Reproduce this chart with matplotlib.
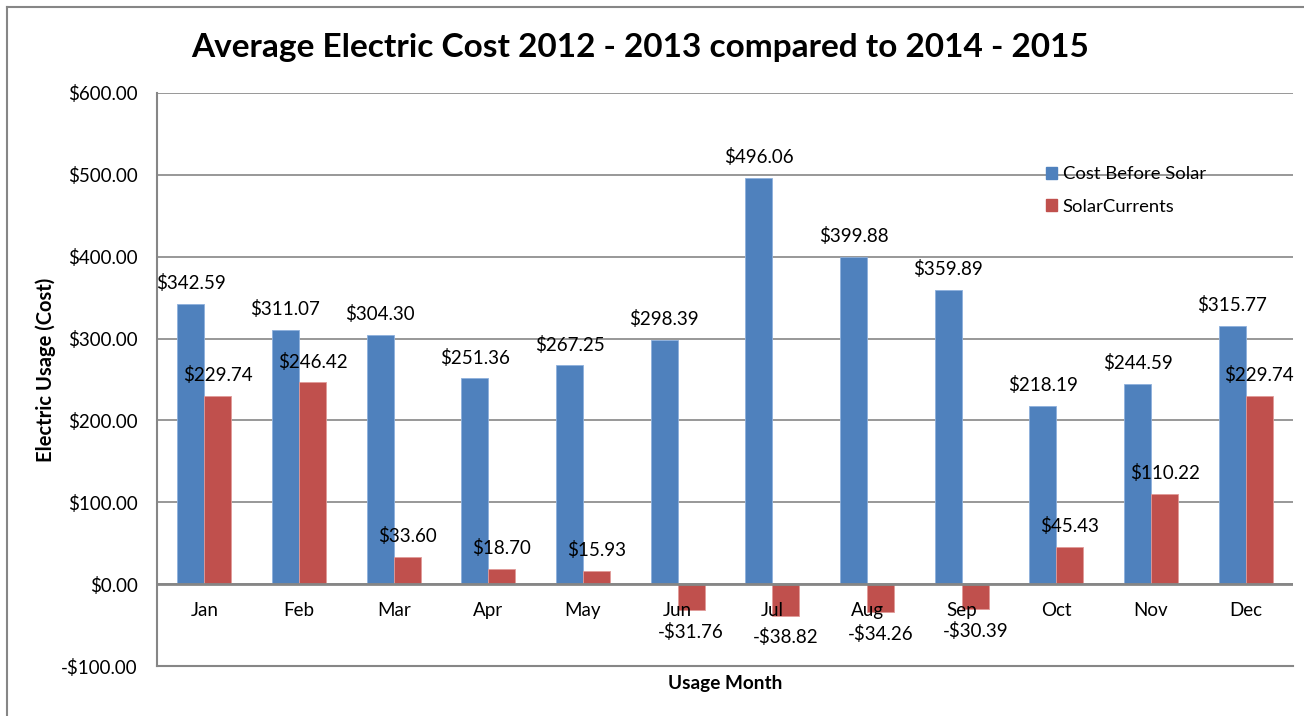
import matplotlib
matplotlib.use("Agg")
import matplotlib.pyplot as plt
import numpy as np
from matplotlib.lines import Line2D
from matplotlib.patches import Patch

plt.rcParams['font.family'] = ['Lato', 'DejaVu Sans']

months = ["Jan", "Feb", "Mar", "Apr", "May", "Jun", "Jul", "Aug", "Sep", "Oct", "Nov", "Dec"]
cost_before_solar = [342.59, 311.07, 304.30, 251.36, 267.25, 298.39, 496.06, 399.88, 359.89, 218.19, 244.59, 315.77]
solar_currents = [229.74, 246.42, 33.60, 18.70, 15.93, -31.76, -38.82, -34.26, -30.39, 45.43, 110.22, 229.74]
series_names = ["Cost Before Solar", "SolarCurrents"]
yticks = [-100, 0, 100, 200, 300, 400, 500, 600]

blue = "#4F81BD"
red = "#C0504D"
fs = 13.5

fig = plt.figure(figsize=(13.04, 7.16), dpi=100)
ax = fig.add_axes([157/1304, 1-666/716, (1293-157)/1304, (666-93)/716])

x = np.arange(len(months))
w = 0.2857
b1 = ax.bar(x - w/2, cost_before_solar, w, color=blue, edgecolor="#8EB0DC", linewidth=0.6, zorder=3)
b2 = ax.bar(x + w/2, solar_currents, w, color=red, edgecolor="#E19A98", linewidth=0.6, zorder=3)

def fmt(v):
    return ("-$%.2f" % abs(v)) if v < 0 else ("$%.2f" % v)

for bars, vals in ((b1, cost_before_solar), (b2, solar_currents)):
    for rect, v in zip(bars, vals):
        cx = rect.get_x() + rect.get_width()/2
        off = 15 if v >= 0 else -15.5
        ax.annotate(fmt(v), (cx, v), xytext=(0, off), textcoords="offset points",
                    ha="center", va="center", fontsize=fs, color="black", zorder=5)

ax.set_xlim(-0.5, len(months) - 0.5)
ax.set_ylim(-100, 600)
ax.set_yticks(yticks)
ax.set_yticklabels([fmt(v) for v in yticks], fontsize=fs)
ax.tick_params(axis='y', length=0, pad=14)
ax.grid(axis='y', color="#868686", linewidth=1.2, zorder=0)
ax.set_axisbelow(True)

ax.set_xticks([])
for i, m in enumerate(months):
    ax.text(i, -32, m, ha="center", va="center", fontsize=fs, zorder=5)
ax.axhline(0, color="#868686", linewidth=2, zorder=4)

for s in ("top", "right"):
    ax.spines[s].set_visible(False)
for s in ("left", "bottom"):
    ax.spines[s].set_color("#868686")
    ax.spines[s].set_linewidth(1.5)

fig.text(46/1304, 1-370/716, "Electric Usage (Cost)", ha="center", va="center",
         rotation=90, fontsize=14.5, fontweight="bold")
fig.text((157+1293)/2/1304, 1-683/716, "Usage Month", ha="center", va="center",
         fontsize=13.7, fontweight="bold")
fig.text(640/1304, 1-47/716, "Average Electric Cost 2012 - 2013 compared to 2014 - 2015",
         ha="center", va="center", fontsize=24, fontweight="bold")

handles = [Patch(facecolor=blue, edgecolor=blue), Patch(facecolor=red, edgecolor=red)]
leg = fig.legend(handles, series_names, loc="upper left", bbox_to_anchor=(1037/1304, 1-157/716),
                 frameon=False, fontsize=13.3, handlelength=0.6, handleheight=0.6,
                 handletextpad=0.3, labelspacing=0.9, borderpad=0)

# outer chart frame
fig.add_artist(Line2D([7/1304, 7/1304], [0, 1-7/716], color="#868686", linewidth=1.5))
fig.add_artist(Line2D([7/1304, 1], [1-7/716, 1-7/716], color="#868686", linewidth=1.5))

fig.savefig("out.png", dpi=100)
